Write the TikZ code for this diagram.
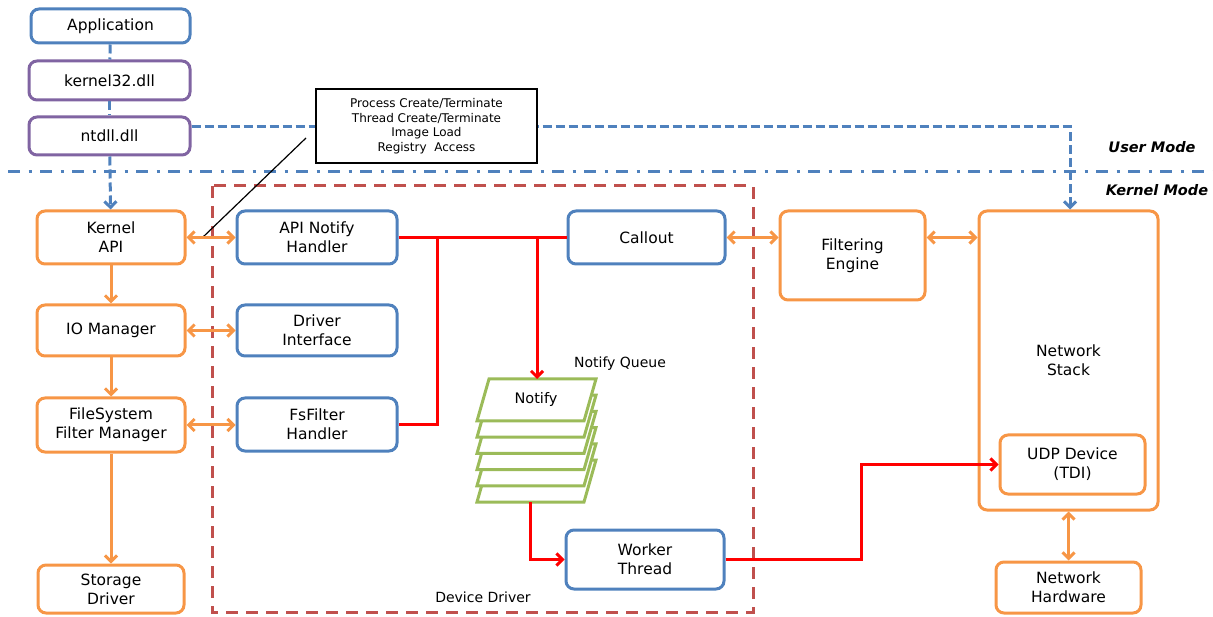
\documentclass[tikz,border=0pt]{standalone}
\usepackage{fontspec}
\setmainfont{DejaVu Sans}
\usetikzlibrary{arrows.meta}
\definecolor{cblue}{HTML}{4F81BD}
\definecolor{cpurple}{HTML}{8064A2}
\definecolor{corange}{HTML}{F79646}
\definecolor{cdred}{HTML}{C0504D}
\definecolor{cgreen}{HTML}{9BBB59}
\tikzset{
  base/.style={rounded corners=8pt, line width=3pt, fill=white, align=center, inner sep=0pt,
    font=\fontsize{15.5}{19}\selectfont},
  bbox/.style={base, draw=cblue},
  obox/.style={base, draw=corange},
  pbox/.style={base, draw=cpurple},
  oline/.style={draw=corange, line width=3pt},
  odbl/.style={oline, {Straight Barb[length=6pt,width=12pt]}-{Straight Barb[length=6pt,width=12pt]}},
  oone/.style={oline, -{Straight Barb[length=6pt,width=12pt]}},
  rline/.style={draw=red, line width=3pt},
  rarr/.style={rline, -{Straight Barb[length=6pt,width=12pt]}},
  bdash/.style={draw=cblue, line width=3pt, dash pattern=on 9pt off 4pt},
  bdashdot/.style={draw=cblue, line width=3pt, dash pattern=on 12pt off 8.5pt on 3pt off 8.5pt},
  ddash/.style={draw=cdred, line width=3pt, dash pattern=on 12pt off 8pt},
  qlayer/.style={draw=cgreen, line width=3pt, fill=white, line join=miter},
  lbl/.style={inner sep=0pt, font=\fontsize{14}{17}\selectfont},
  modelbl/.style={inner sep=0pt, font=\fontsize{14.5}{17}\selectfont\bfseries\itshape},
  infobox/.style={draw=black, line width=1.5pt, fill=white, align=center, inner sep=0pt,
    font=\fontsize{12}{14.5}\selectfont},
}
\begin{document}
\begin{tikzpicture}[x=1pt,y=-1pt]
\useasboundingbox (0,0) rectangle (1213,617);

% device driver frame
\draw[ddash] (212,186) rectangle (753,612);
\node[lbl] (ddlbl) at (483,597) {Device Driver};

% user / kernel separator
\coordinate (sepL) at (8,172);
\coordinate (sepR) at (1213,172);
\draw[bdashdot] (sepL) -- (sepR);
\node[modelbl] (umode) at (1152,147) {User Mode};
\node[modelbl] (kmode) at (1157,190) {Kernel Mode};

% user mode nodes
\node[bbox, minimum width=159pt, minimum height=34pt] (app) at (110.5,26) {Application};
\node[pbox, minimum width=161pt, minimum height=39pt] (k32) at (109.5,80.5) {kernel32.dll};
\node[pbox, minimum width=161pt, minimum height=38pt] (ntdll) at (109.5,136) {ntdll.dll};

% kernel left column
\node[obox, minimum width=148pt, minimum height=53pt] (kapi) at (111,237.5) {Kernel\\API};
\node[obox, minimum width=148pt, minimum height=51pt] (iom) at (111,330.5) {IO Manager};
\node[obox, minimum width=148pt, minimum height=54pt] (fsm) at (111,425) {FileSystem\\Filter Manager};
\node[obox, minimum width=146pt, minimum height=48pt] (stor) at (111,589) {Storage\\Driver};

% driver column
\node[bbox, minimum width=160pt, minimum height=53pt] (apin) at (317,237.5) {API Notify\\Handler};
\node[bbox, minimum width=160pt, minimum height=51pt] (drvi) at (317,330.5) {Driver\\Interface};
\node[bbox, minimum width=160pt, minimum height=53pt] (fsf) at (317,424.5) {FsFilter\\Handler};
\node[bbox, minimum width=157pt, minimum height=53pt] (callout) at (646.5,237.5) {Callout};
\node[bbox, minimum width=158pt, minimum height=59pt] (worker) at (645,559.5) {Worker\\Thread};

% network side
\node[obox, minimum width=145pt, minimum height=89pt] (filt) at (852.5,255.5) {Filtering\\Engine};
\node[obox, minimum width=179pt, minimum height=299pt] (nstack) at (1068.5,360.5) {Network\\Stack};
\node[obox, minimum width=145pt, minimum height=59pt] (udp) at (1072.5,464.5) {UDP Device\\(TDI)};
\node[obox, minimum width=145pt, minimum height=51pt] (nhw) at (1068.5,587.5) {Network\\Hardware};

% notify queue stack
\foreach \i in {5,4,...,0}{
  \draw[qlayer] (489,379+16.2*\i) -- (596,379+16.2*\i) -- (584,421+16.2*\i) -- (477,421+16.2*\i) -- cycle;
}
\node[lbl, font=\fontsize{14.5}{17}\selectfont] (notify) at (536,400) {Notify};
\node[lbl] (nqlbl) at (620,364) {Notify Queue};
\coordinate (nqtop) at (537,379);
\coordinate (nqbot) at (530,502);

% blue dashed user-mode calls
\draw[bdash] (app) -- (k32);
\draw[bdash] (k32) -- (ntdll);
\draw[bdash, -{Straight Barb[length=6pt,width=12pt]}] (ntdll) -- (kapi);
\coordinate (bd1) at (1070,127);
\draw[bdash, -{Straight Barb[length=6pt,width=12pt]}] (ntdll.east |- bd1) -- (bd1) -- (bd1 |- nstack.north);

% info box and pointer
\node[infobox, minimum width=221pt, minimum height=74pt] (info) at (426.5,126)
  {Process Create/Terminate\\Thread Create/Terminate\\Image Load\\Registry\ \ Access};
\coordinate (ptrA) at (306,138);
\coordinate (ptrB) at (202,238);
\draw[black, line width=1.2pt] (ptrA) -- (ptrB);

% orange connectors
\draw[oone] (kapi) -- (iom);
\draw[oone] (iom) -- (fsm);
\draw[oone] (fsm) -- (stor);
\draw[odbl] (kapi) -- (apin);
\draw[odbl] (iom) -- (drvi);
\draw[odbl] (fsm.east) -- (fsf.west |- fsm.east);
\draw[odbl] (callout.east) -- (filt.west |- callout.east);
\draw[odbl] (filt.east |- callout.east) -- (nstack.west |- callout.east);
\draw[odbl] (nstack.south) -- (nhw.north);

% red connectors
\coordinate (j1) at (437,237.5);
\coordinate (j2) at (537,237.5);
\coordinate (j3) at (861,0);
\draw[rline] (apin.east) -- (callout.west);
\draw[rline] (j1) -- (j1 |- fsf.east) -- (fsf.east);
\draw[rarr] (j2) -- (nqtop);
\draw[rarr] (nqbot) -- (nqbot |- worker.west) -- (worker.west);
\draw[rarr] (worker.east) -- (worker.east -| j3) -- (j3 |- udp.west) -- (udp.west);
\end{tikzpicture}
\end{document}
